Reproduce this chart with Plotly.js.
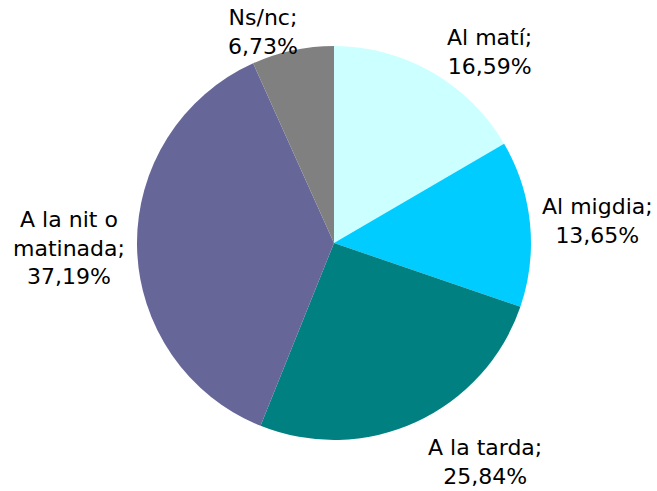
<!DOCTYPE html>
<html><head><meta charset="utf-8">
<script src="https://cdn.plot.ly/plotly-3.0.1.min.js"></script>
<style>html,body{margin:0;padding:0;background:#fff}</style>
</head><body><div id="chart" style="width:657px;height:491px"></div>
<script>
const categories = ["Al matí", "Al migdia", "A la tarda", "A la nit o matinada", "Ns/nc"];
const values = [16.59, 13.65, 25.84, 37.19, 6.73];
const labelLines = ["Al matí;", "Al migdia;", "A la tarda;", "A la nit o<br>matinada;", "Ns/nc;"];
const colors = ["#CCFFFF", "#00CCFF", "#008080", "#666699", "#808080"];

// label placement (layout only, in pixels of the 657x491 figure)
const W = 657, H = 491;
const labelPosPx = [[489, 52], [597, 221], [485, 462], [69, 248], [263, 32]];

const fmt = v => v.toFixed(2).replace('.', ',') + '%';

const annotations = categories.map((c, i) => ({
  xref: 'paper', yref: 'paper',
  x: labelPosPx[i][0] / W, y: 1 - labelPosPx[i][1] / H,
  xanchor: 'center', yanchor: 'middle',
  text: labelLines[i] + '<br>' + fmt(values[i]),
  showarrow: false, align: 'center',
  font: {family: 'DejaVu Sans, Verdana, sans-serif', size: 22, color: '#000'}
}));

Plotly.newPlot('chart', [{
  type: 'pie',
  labels: categories,
  values: values,
  textinfo: 'none',
  sort: false,
  direction: 'clockwise',
  rotation: 0,
  marker: {colors: colors, line: {width: 0}},
  domain: {x: [0.2085, 0.8082], y: [0.1039, 0.9063]},
  hoverinfo: 'none'
}], {
  width: W, height: H,
  margin: {l: 0, r: 0, t: 0, b: 0},
  showlegend: false,
  paper_bgcolor: '#fff',
  annotations: annotations
}, {displayModeBar: false, staticPlot: true});
</script></body></html>
